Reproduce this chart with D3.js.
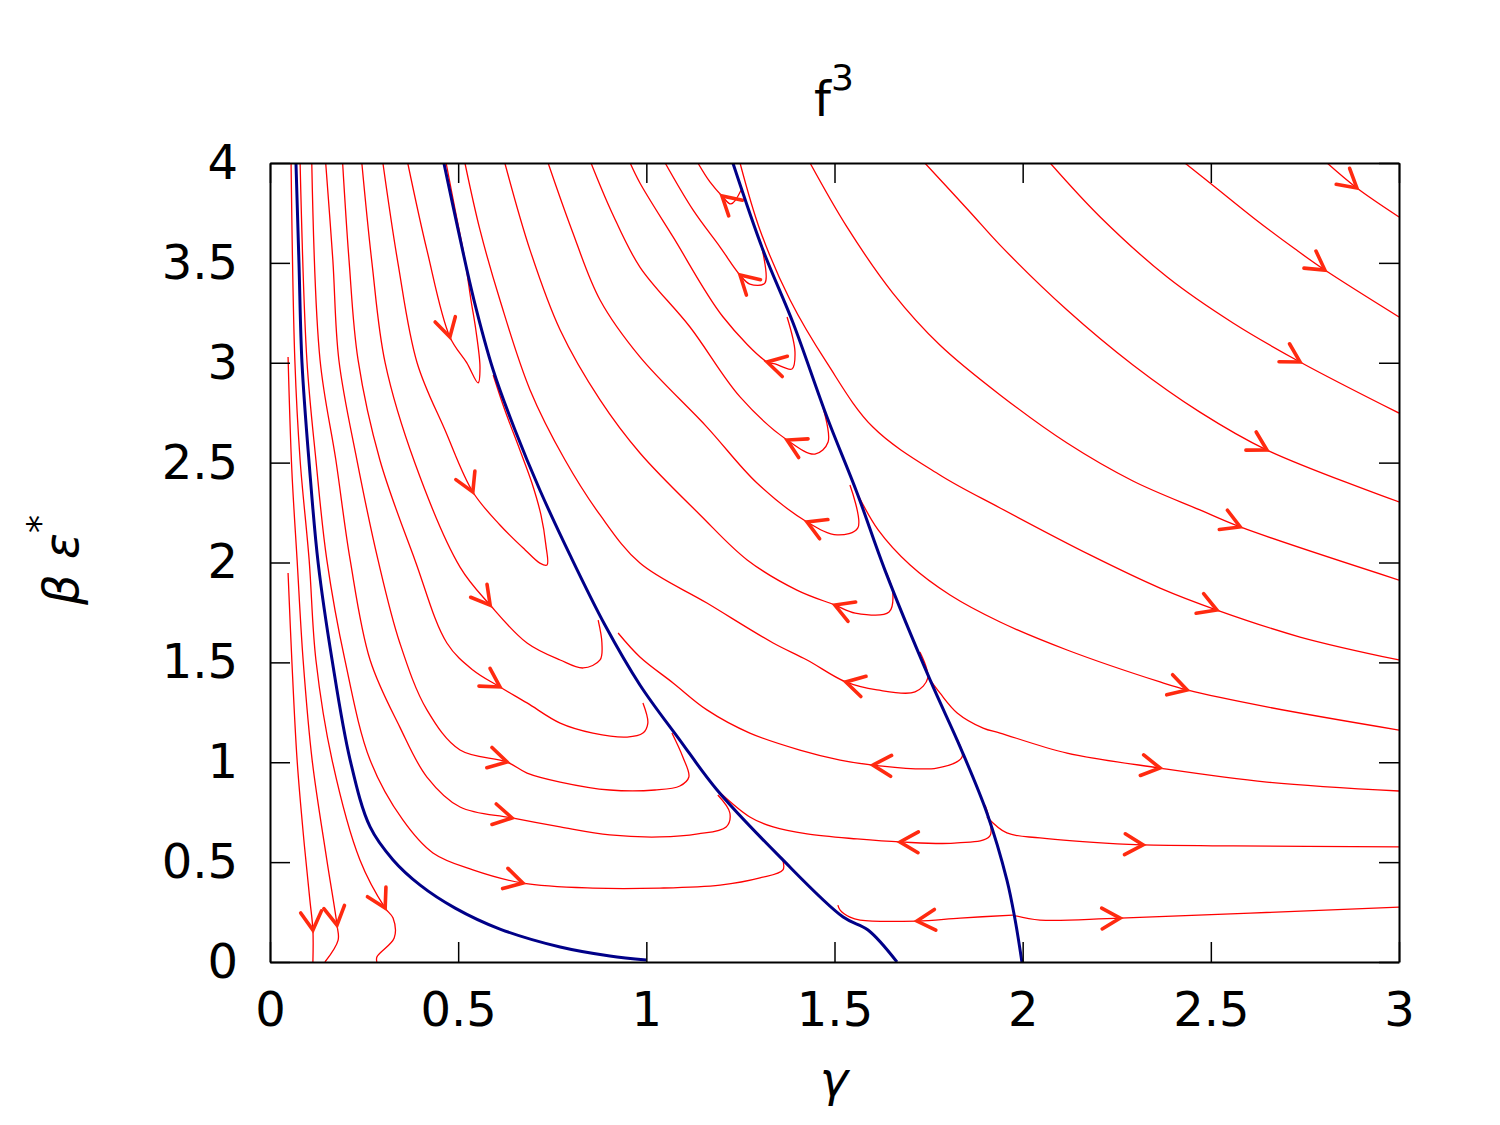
<!DOCTYPE html>
<html>
<head>
<meta charset="utf-8">
<script src="https://cdn.jsdelivr.net/npm/d3@7"></script>
<style>
  body { margin: 0; background: #fff; }
  text { font-family: "DejaVu Sans", sans-serif; }
</style>
</head>
<body>
<svg id="chart" width="1500" height="1125"></svg>
<script>
// axis ticks
const xTicks = [0, 0.5, 1, 1.5, 2, 2.5, 3];
const yTicks = [0, 0.5, 1, 1.5, 2, 2.5, 3, 3.5, 4];

// blue separatrices  [gamma, beta*eps]
const sep1 = [[0.069,4.0],[0.077,3.499],[0.085,2.999],[0.104,2.498],[0.128,1.997],[0.165,1.512],
  [0.213,1.011],[0.266,0.676],[0.327,0.511],[0.399,0.385],[0.492,0.270],[0.611,0.165],
  [0.771,0.075],[0.903,0.030],[1.0,0.010]];
const sep2 = [[0.462,4.0],[0.500,3.665],[0.542,3.314],[0.593,2.964],[0.651,2.663],[0.717,2.363],
  [0.797,2.038],[0.890,1.687],[0.983,1.387],[1.089,1.111],[1.188,0.861],[1.355,0.526],
  [1.523,0.225],[1.589,0.160],[1.666,0.0]];
const sep3 = [[1.230,4.0],[1.310,3.564],[1.390,3.199],[1.480,2.728],[1.560,2.348],[1.634,1.962],
  [1.754,1.412],[1.834,1.076],[1.905,0.746],[1.958,0.411],[1.980,0.210],[1.998,0.0]];

// red trajectories, ordered along the flow
const t1 = [[0.048,1.947],[0.058,1.512],[0.072,1.011],[0.090,0.611],[0.106,0.310],[0.114,0.160],[0.114,0.0]];
const t2 = [[0.048,3.029],[0.058,2.463],[0.072,2.013],[0.088,1.512],[0.112,1.011],[0.151,0.511],
  [0.178,0.185],[0.181,0.110],[0.146,0.0]];
const t3 = [[0.056,4.0],[0.066,3.014],[0.080,2.513],[0.104,2.013],[0.122,1.512],[0.165,1.011],
  [0.239,0.511],[0.306,0.270],[0.327,0.220],[0.330,0.120],[0.284,0.025],[0.284,0.0]];

const a1 = [[0.080,4.0],[0.098,3.014],[0.122,2.513],[0.151,2.013],[0.199,1.512],[0.266,1.011],
  [0.353,0.711],[0.433,0.546],[0.539,0.461],[0.672,0.395],[0.858,0.370],[1.036,0.370],
  [1.196,0.385],[1.302,0.421],[1.363,0.461],[1.361,0.521]];
const a2 = [[0.111,4.0],[0.133,3.014],[0.175,2.513],[0.213,2.013],[0.266,1.512],[0.345,1.176],
  [0.417,0.926],[0.505,0.776],[0.643,0.721],[0.771,0.676],[0.903,0.636],[1.036,0.626],
  [1.137,0.641],[1.212,0.676],[1.222,0.746],[1.190,0.836]];
const a3 = [[0.148,4.0],[0.167,3.514],[0.183,3.014],[0.231,2.513],[0.287,2.013],[0.345,1.597],
  [0.417,1.262],[0.505,1.061],[0.630,1.001],[0.683,0.946],[0.771,0.901],[0.903,0.861],
  [1.023,0.861],[1.089,0.881],[1.113,0.926],[1.097,1.026],[1.068,1.146]];
const a4 = [[0.193,4.0],[0.210,3.514],[0.234,3.014],[0.292,2.513],[0.385,2.013],[0.470,1.597],
  [0.539,1.462],[0.611,1.377],[0.683,1.297],[0.771,1.196],[0.858,1.146],[0.949,1.126],
  [0.991,1.146],[1.004,1.196],[0.991,1.297]];
const u3 = [[0.244,4.0],[0.271,3.499],[0.306,2.999],[0.385,2.498],[0.505,1.977],[0.585,1.787],
  [0.683,1.597],[0.771,1.512],[0.832,1.472],[0.877,1.512],[0.882,1.597],[0.872,1.712]];
const u2 = [[0.300,4.0],[0.340,3.499],[0.391,2.999],[0.465,2.663],[0.539,2.353],[0.611,2.188],
  [0.678,2.063],[0.717,1.997],[0.736,1.987],[0.733,2.088],[0.720,2.238],[0.696,2.398],
  [0.664,2.563],[0.624,2.763],[0.593,2.939]];
const u1 = [[0.366,4.0],[0.417,3.564],[0.478,3.129],[0.523,2.999],[0.553,2.899],[0.558,2.974],
  [0.547,3.164],[0.534,3.314],[0.518,3.514],[0.492,3.765],[0.468,4.0]];

const m1 = [[1.252,3.865],[1.225,3.795],[1.201,3.835],[1.169,3.905],[1.137,4.0]];
const m2 = [[1.302,3.615],[1.315,3.399],[1.275,3.394],[1.249,3.439],[1.196,3.579],[1.124,3.765],[1.050,4.0]];
const m3 = [[1.374,3.229],[1.395,3.054],[1.387,2.969],[1.342,2.994],[1.321,3.004],[1.204,3.229],
  [1.071,3.630],[0.983,3.900],[0.957,4.0]];
const m4 = [[1.461,2.829],[1.483,2.603],[1.448,2.543],[1.374,2.613],[1.249,2.829],[1.116,3.179],
  [0.983,3.479],[0.909,3.750],[0.853,4.0]];
const m5 = [[1.541,2.388],[1.562,2.173],[1.507,2.138],[1.427,2.203],[1.294,2.398],[1.161,2.678],
  [0.983,3.029],[0.877,3.314],[0.802,3.665],[0.739,4.0]];
const m6 = [[1.637,1.952],[1.655,1.847],[1.645,1.752],[1.555,1.747],[1.501,1.787],[1.400,1.862],
  [1.268,2.013],[1.143,2.238],[0.983,2.548],[0.877,2.814],[0.771,3.164],[0.691,3.564],[0.624,4.0]];
const m7 = [[1.727,1.552],[1.748,1.422],[1.714,1.352],[1.613,1.362],[1.530,1.402],[1.427,1.512],
  [1.337,1.597],[1.161,1.797],[0.983,1.997],[0.877,2.238],[0.784,2.513],[0.691,2.864],
  [0.611,3.314],[0.558,3.665],[0.518,4.0]];
const m8 = [[1.820,1.136],[1.839,1.026],[1.772,0.971],[1.602,0.986],[1.515,1.011],[1.408,1.061],
  [1.275,1.146],[1.161,1.262],[1.071,1.397],[0.983,1.527],[0.925,1.647]];
const m9 = [[1.900,0.786],[1.913,0.631],[1.826,0.596],[1.674,0.601],[1.560,0.616],[1.427,0.641],
  [1.337,0.676],[1.275,0.726],[1.188,0.861]];
const m10 = [[1.974,0.235],[1.834,0.220],[1.719,0.205],[1.568,0.210],[1.541,0.225],[1.515,0.260],[1.509,0.285]];

const ra = [[1.249,4.0],[1.302,3.665],[1.382,3.314],[1.480,2.999],[1.602,2.678],[1.780,2.438],
  [1.940,2.273],[2.179,2.038],[2.365,1.872],[2.516,1.762],[2.737,1.627],[3.0,1.512]];
const rb = [[1.560,2.348],[1.616,2.163],[1.701,1.987],[1.807,1.837],[1.940,1.702],[2.118,1.562],
  [2.365,1.402],[2.437,1.362],[2.649,1.277],[3.0,1.161]];
const rc = [[1.754,1.412],[1.780,1.347],[1.826,1.247],[1.895,1.171],[1.940,1.146],[2.118,1.046],
  [2.365,0.971],[2.649,0.901],[3.0,0.856]];
const rd = [[1.905,0.726],[1.958,0.646],[2.046,0.621],[2.251,0.591],[2.320,0.586],[2.559,0.581],[3.0,0.576]];
const re = [[1.974,0.235],[2.046,0.210],[2.259,0.220],[3.0,0.275]];
const rf = [[1.435,4.0],[1.533,3.680],[1.655,3.349],[1.780,3.089],[1.940,2.839],[2.118,2.598],
  [2.293,2.408],[2.471,2.263],[2.578,2.178],[3.0,1.912]];
const rg = [[1.740,4.0],[1.860,3.755],[1.940,3.589],[2.118,3.264],[2.293,2.989],[2.471,2.753],
  [2.649,2.563],[3.0,2.303]];
const rh = [[2.073,4.0],[2.206,3.730],[2.384,3.429],[2.559,3.199],[2.737,3.004],[3.0,2.748]];
const ri = [[2.431,4.0],[2.511,3.880],[2.617,3.720],[2.724,3.569],[2.803,3.464],[3.0,3.229]];
const rj = [[2.809,4.0],[2.888,3.875],[3.0,3.730]];

// which vertex of each trajectory carries the arrow head
const flows = [
  [t1, 5], [t2, 6], [t3, 7],
  [a1, 9], [a2, 8], [a3, 8], [a4, 7], [u3, 5], [u2, 4], [u1, 2],
  [m1, 2], [m2, 3], [m3, 4], [m4, 3], [m5, 3], [m6, 4], [m7, 4], [m8, 3], [m9, 3], [m10, 2],
  [ra, 9], [rb, 7], [rc, 6], [rd, 4], [re, 2], [rf, 8], [rg, 6], [rh, 4], [ri, 4], [rj, 1]
];
const separatrices = [sep1, sep2, sep3];

const svg = d3.select("#chart");
const pL = 270, pT = 163, pR = 1399, pB = 962;

const x = d3.scaleLinear().domain([0, 3]).range([pL, pR]);
const y = d3.scaleLinear().domain([0, 4]).range([pB, pT]);

svg.append("clipPath").attr("id", "plotclip")
  .append("rect")
  .attr("x", pL).attr("y", pT)
  .attr("width", pR - pL).attr("height", pB - pT);

const line = d3.line()
  .x(d => x(d[0]))
  .y(d => y(d[1]))
  .curve(d3.curveCatmullRom.alpha(0.5));

const plot = svg.append("g").attr("clip-path", "url(#plotclip)");

plot.selectAll("path.flow")
  .data(flows)
  .enter()
  .append("path")
  .attr("class", "flow")
  .attr("d", d => line(d[0]))
  .attr("fill", "none")
  .attr("stroke", "#ff0000")
  .attr("stroke-width", 1.3)
  .attr("stroke-linejoin", "round");

// open "V" arrow head at vertex k, pointing along k-1 -> k
function head(d) {
  const pts = d[0], k = d[1];
  const p0 = [x(pts[k - 1][0]), y(pts[k - 1][1])];
  const p1 = [x(pts[k][0]), y(pts[k][1])];
  const a = Math.atan2(p1[1] - p0[1], p1[0] - p0[0]);
  const L = 21, w = 0.52;
  const w1 = [p1[0] - L * Math.cos(a - w), p1[1] - L * Math.sin(a - w)];
  const w2 = [p1[0] - L * Math.cos(a + w), p1[1] - L * Math.sin(a + w)];
  return "M" + w1 + "L" + p1 + "L" + w2;
}

plot.selectAll("path.head")
  .data(flows)
  .enter()
  .append("path")
  .attr("class", "head")
  .attr("d", head)
  .attr("fill", "none")
  .attr("stroke", "#ff2a10")
  .attr("stroke-width", 3.6)
  .attr("stroke-linecap", "round")
  .attr("stroke-linejoin", "miter");

plot.selectAll("path.sep")
  .data(separatrices)
  .enter()
  .append("path")
  .attr("class", "sep")
  .attr("d", line)
  .attr("fill", "none")
  .attr("stroke", "#000088")
  .attr("stroke-width", 3);

// axes, ticks inward on all four sides
const tickLen = 20;
const axisStyle = g => {
  g.selectAll(".domain").attr("stroke", "#000").attr("stroke-width", 2);
  g.selectAll(".tick line").attr("stroke", "#000").attr("stroke-width", 1.5);
  g.selectAll(".tick text").attr("font-size", 48).attr("fill", "#000")
    .attr("font-family", "'DejaVu Sans', sans-serif");
};

svg.append("g")
  .attr("transform", `translate(0,${pB})`)
  .call(d3.axisBottom(x).tickValues(xTicks).tickSize(-tickLen).tickSizeOuter(0)
    .tickPadding(30).tickFormat(d3.format("")))
  .call(axisStyle);

svg.append("g")
  .attr("transform", `translate(${pL},0)`)
  .call(d3.axisLeft(y).tickValues(yTicks).tickSize(-tickLen).tickSizeOuter(0)
    .tickPadding(32).tickFormat(d3.format("")))
  .call(axisStyle);

svg.append("g")
  .attr("transform", `translate(0,${pT})`)
  .call(d3.axisTop(x).tickValues(xTicks).tickSize(-tickLen).tickSizeOuter(0).tickFormat(""))
  .call(axisStyle);

svg.append("g")
  .attr("transform", `translate(${pR},0)`)
  .call(d3.axisRight(y).tickValues(yTicks).tickSize(-tickLen).tickSizeOuter(0).tickFormat(""))
  .call(axisStyle);

// title
const title = svg.append("text")
  .attr("x", 834).attr("y", 116)
  .attr("text-anchor", "middle")
  .attr("font-size", 48);
title.append("tspan").text("f");
title.append("tspan").attr("dy", -26).attr("font-size", 36).text("3");

// x label
svg.append("text")
  .attr("x", 834).attr("y", 1096)
  .attr("text-anchor", "middle")
  .attr("font-size", 48)
  .attr("font-style", "italic")
  .text("γ");

// y label
const ylab = svg.append("text")
  .attr("transform", "translate(78,560) rotate(-90)")
  .attr("text-anchor", "middle")
  .attr("font-size", 48)
  .attr("font-style", "italic");
ylab.append("tspan").text("β ε");
ylab.append("tspan").attr("dy", -26).attr("font-size", 36).attr("font-style", "normal").text("*");
</script>
</body>
</html>
